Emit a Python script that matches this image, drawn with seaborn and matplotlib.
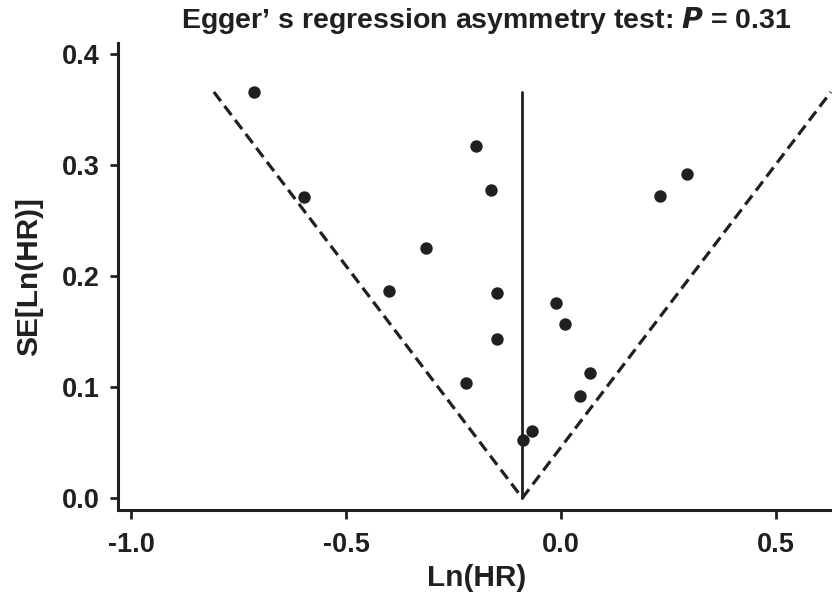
import numpy as np
import pandas as pd
import matplotlib
matplotlib.use("Agg")
import matplotlib.pyplot as plt
import seaborn as sns

# study estimates
ln_hr = [-0.713, -0.598, -0.400, -0.315, -0.221, -0.198, -0.162, -0.150, -0.150,
         -0.089, -0.068, -0.011, 0.009, 0.043, 0.067, 0.231, 0.292]
se_ln_hr = [0.366, 0.271, 0.187, 0.2255, 0.1036, 0.317, 0.278, 0.1845, 0.1435,
            0.052, 0.060, 0.1755, 0.1566, 0.0916, 0.113, 0.272, 0.292]
pooled = -0.09   # pooled ln(HR), apex of the funnel
se_max = 0.366   # funnel height
x_ticks = [-1.0, -0.5, 0.0, 0.5]
y_ticks = [0.0, 0.1, 0.2, 0.3, 0.4]
egger_p = 0.31

df = pd.DataFrame({"ln_hr": ln_hr, "se": se_ln_hr})

sns.set_style("ticks")
plt.rcParams["font.family"] = ["Liberation Sans", "DejaVu Sans"]
plt.rcParams["font.weight"] = "bold"
plt.rcParams["mathtext.fontset"] = "custom"
plt.rcParams["mathtext.it"] = "Liberation Sans Narrow:italic:bold"
plt.rcParams["mathtext.rm"] = "Liberation Sans Narrow:bold"
narrow = ["Liberation Sans Narrow", "Liberation Sans", "DejaVu Sans"]

ink = "#231f20"
W, H = 832, 595
fig = plt.figure(figsize=(W / 100, H / 100), dpi=100)
ax = fig.add_axes([118.3 / W, 1 - 510 / H, 1 - 118.3 / W, (510 - 42.7) / H])

# 95% pseudo confidence limits and pooled estimate
ends = np.array([-1.96, 0.0, 1.96])
funnel_se = np.array([se_max, 0.0, se_max])
ax.plot(pooled + ends * funnel_se, funnel_se, color=ink, lw=2.3,
        ls=(0, (3.6, 1.9)), zorder=2)
ax.plot([pooled, pooled], [0, se_max], color=ink, lw=2.0, zorder=2)

sns.scatterplot(data=df, x="ln_hr", y="se", ax=ax, color=ink, s=80,
                linewidth=0, zorder=3)

ax.set_xlim(-1.0295, 0.630)
ax.set_ylim(-0.0108, 0.4104)
ax.set_xticks(x_ticks)
ax.set_xticklabels([f"{v:.1f}" for v in x_ticks])
ax.set_yticks(y_ticks)
ax.set_yticklabels([f"{v:.1f}" for v in y_ticks])
ax.set_xlabel("")
ax.set_ylabel("")
for s in ["top", "right"]:
    ax.spines[s].set_visible(False)
for s in ["left", "bottom"]:
    ax.spines[s].set_linewidth(2.2)
    ax.spines[s].set_color(ink)
ax.tick_params(width=2.0, color=ink, labelsize=19.5, labelcolor=ink)
ax.tick_params(axis="x", length=6.5, pad=9.5)
ax.tick_params(axis="y", length=5.8, pad=7.5)

fig.text(477 / W, 1 - 578 / H, "Ln(HR)", ha="center", va="center",
         fontsize=21.5, fontweight="bold", family=narrow, color=ink)
fig.text(29 / W, 1 - 277 / H, "SE[Ln(HR)]", ha="center", va="center",
         rotation=90, fontsize=21.5, fontweight="bold", family=narrow, color=ink)
fig.text(486 / W, 1 - 21 / H,
         f"Egger\u2019 s regression asymmetry test: $P$ = {egger_p:.2f}",
         ha="center", va="center", fontsize=20.5, fontweight="bold",
         family=narrow, color=ink)

fig.savefig("out.png", dpi=100)
